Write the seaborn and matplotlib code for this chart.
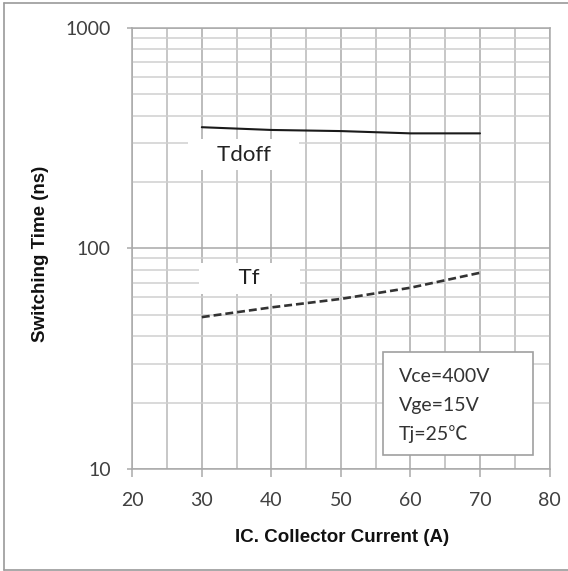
import matplotlib
matplotlib.use("Agg")
import matplotlib.pyplot as plt
import seaborn as sns
import pandas as pd
import numpy as np
from matplotlib.lines import Line2D
from matplotlib.patches import Rectangle
from matplotlib.ticker import FixedLocator, NullFormatter

# ---- data ----
ic_current = [30, 40, 50, 60, 70]
tdoff_ns = [354, 344, 340, 332, 332]
tf_ns = [48.8, 54, 59, 66.3, 77.5]
x_ticks = [20, 30, 40, 50, 60, 70, 80]
y_ticks = [10, 100, 1000]
y_tick_labels = ["10", "100", "1000"]
conditions = ["Vce=400V", "Vge=15V", "Tj=25\u2103"]

sns.set_style("white")
plt.rcParams["font.family"] = ["Lato", "DejaVu Sans"]

W, H = 568, 571
fig = plt.figure(figsize=(W / 100, H / 100), dpi=100)
ax_l, ax_r, ax_t, ax_b = 132.3, 549.5, 27.7, 469.0
ax = fig.add_axes([ax_l / W, 1 - ax_b / H, (ax_r - ax_l) / W, (ax_b - ax_t) / H])

df_tdoff = pd.DataFrame({"Ic": ic_current, "t": tdoff_ns})
df_tf = pd.DataFrame({"Ic": ic_current, "t": tf_ns})

sns.lineplot(data=df_tdoff, x="Ic", y="t", ax=ax, color="#1a1a1a", lw=1.5, zorder=4)
sns.lineplot(data=df_tf, x="Ic", y="t", ax=ax, color="#333333", lw=1.9,
             dashes=False, zorder=4)
ax.lines[-1].set_dashes([3.0, 1.5])

ax.set_yscale("log")
ax.set_xlim(20, 80)
ax.set_ylim(10, 1000)

ax.xaxis.set_major_locator(FixedLocator(x_ticks))
ax.xaxis.set_minor_locator(FixedLocator([25, 35, 45, 55, 65, 75]))
ax.set_xticklabels([str(v) for v in x_ticks])
ax.yaxis.set_major_locator(FixedLocator(y_ticks))
minor_y = [m * d for d in [10, 100] for m in range(2, 10)]
ax.yaxis.set_minor_locator(FixedLocator(minor_y))
ax.yaxis.set_minor_formatter(NullFormatter())
ax.set_yticklabels(y_tick_labels)

ax.grid(True, which="major", axis="x", color="#aaaaaa", lw=1.1, zorder=0)
ax.grid(True, which="minor", axis="x", color="#b8b8b8", lw=1.1, zorder=0)
ax.grid(True, which="major", axis="y", color="#a8a8a8", lw=1.1, zorder=0)
ax.grid(True, which="minor", axis="y", color="#cfcfcf", lw=1.1, zorder=0)
ax.set_axisbelow(True)

for s in ax.spines.values():
    s.set_color("#aaaaaa")
    s.set_linewidth(1.1)

ax.tick_params(axis="x", which="major", length=5.5, width=1.1, color="#aaaaaa",
               pad=11, labelsize=14, labelcolor="#404040", direction="out", bottom=True)
ax.tick_params(axis="y", which="major", length=3.5, width=1.1, color="#aaaaaa",
               pad=12, labelsize=14, labelcolor="#404040", direction="out", left=True)
ax.tick_params(which="minor", length=0)

ax.set_xlabel("IC. Collector Current (A)", fontsize=13.5, fontweight="bold",
              family="Liberation Sans", color="#111111", va="center")
ax.xaxis.set_label_coords((342.5 - ax_l) / (ax_r - ax_l), -(538 - ax_b) / (ax_b - ax_t))
ax.set_ylabel("Switching Time (ns)", fontsize=13.5, fontweight="bold",
              family="Liberation Sans", color="#111111", va="center")
ax.yaxis.set_label_coords((41 - ax_l) / (ax_r - ax_l), 0.487)

# curve labels with white background
ax.text(36.0, 266, "    Tdoff    ", fontsize=16, color="#222222", ha="center", va="center",
        zorder=3, bbox=dict(boxstyle="square,pad=0.25", fc="white", ec="none"))
ax.text(36.8, 73.1, "      Tf      ", fontsize=16, color="#222222", ha="center", va="center",
        zorder=3, bbox=dict(boxstyle="square,pad=0.25", fc="white", ec="none"))

# conditions box
bx0 = (382.7 - ax_l) / (ax_r - ax_l)
bx1 = (532.7 - ax_l) / (ax_r - ax_l)
by0 = (ax_b - 455) / (ax_b - ax_t)
by1 = (ax_b - 351.7) / (ax_b - ax_t)
ax.add_patch(Rectangle((bx0, by0), bx1 - bx0, by1 - by0, transform=ax.transAxes,
                       fc="white", ec="#a0a0a0", lw=1.2, zorder=5))
tx = (399 - ax_l) / (ax_r - ax_l)
for txt, py in zip(conditions, [377, 405.5, 434]):
    ax.text(tx, (ax_b - py) / (ax_b - ax_t), txt, transform=ax.transAxes, fontsize=14,
            color="#333333", ha="left", va="center", zorder=6,
            family=["Lato", "Noto Sans CJK SC", "DejaVu Sans"])

# outer frame of the figure
fc = "#9a9a9a"
fig.add_artist(Line2D([4 / W, 1], [1 - 2.5 / H, 1 - 2.5 / H], transform=fig.transFigure, color=fc, lw=1.2))
fig.add_artist(Line2D([4 / W, 4 / W], [1 - 2.5 / H, 1 - 570 / H], transform=fig.transFigure, color=fc, lw=1.2))
fig.add_artist(Line2D([4 / W, 1], [1 - 570 / H, 1 - 570 / H], transform=fig.transFigure, color=fc, lw=1.2))

fig.savefig("out.png", dpi=100, facecolor="white")
